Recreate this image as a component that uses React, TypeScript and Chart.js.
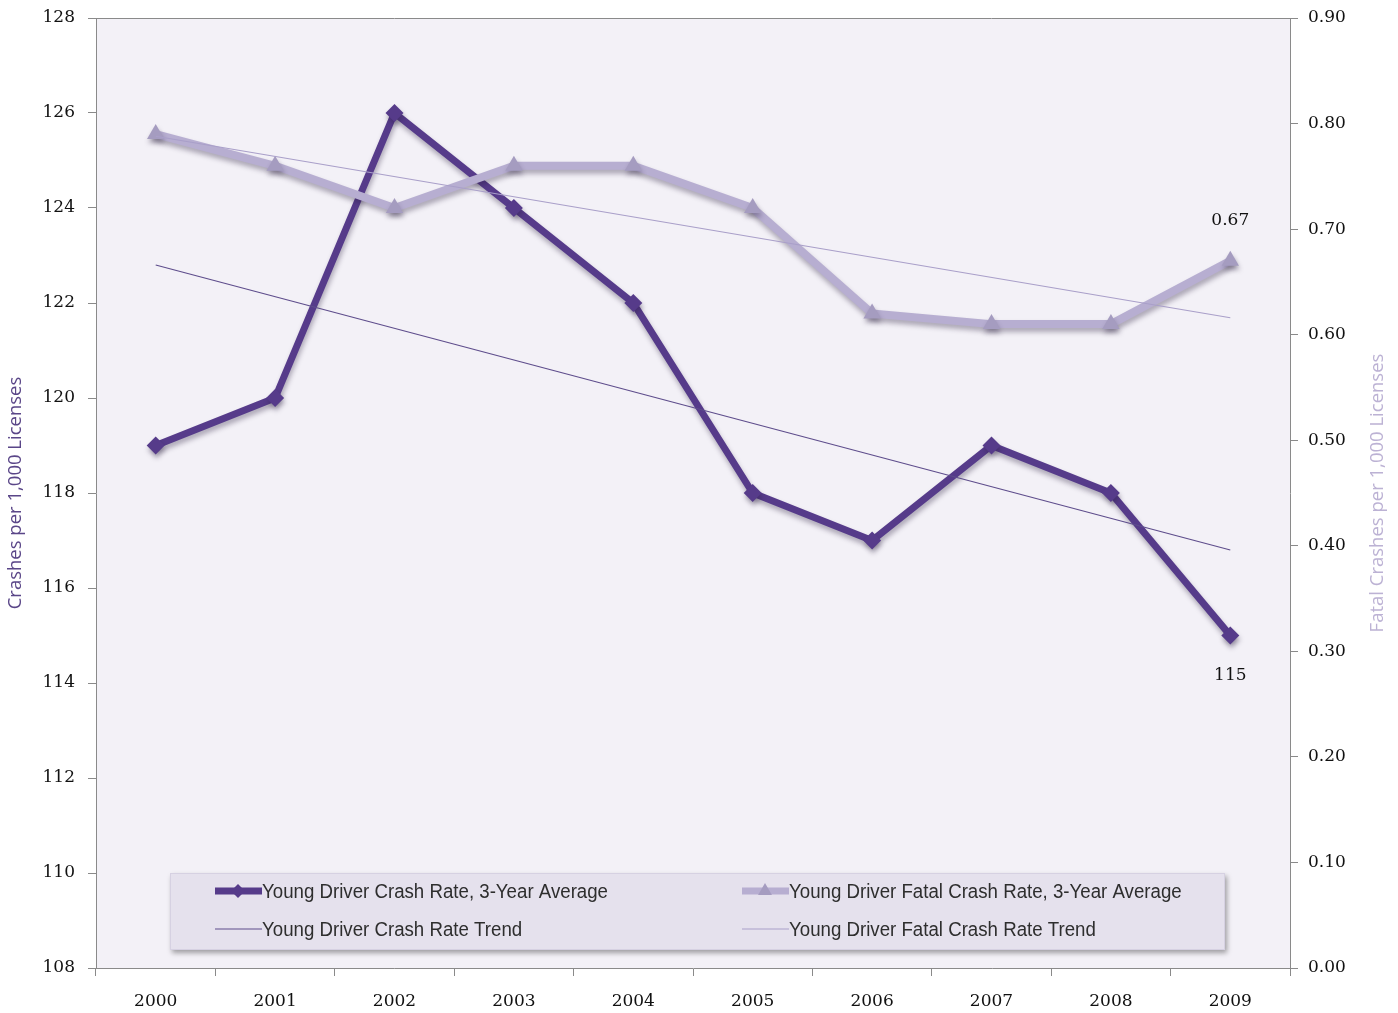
import React, { useEffect, useRef } from 'react';
import { Chart, registerables } from 'chart.js';

Chart.register(...registerables);

// ---- data ----
const years = ['2000', '2001', '2002', '2003', '2004', '2005', '2006', '2007', '2008', '2009'];
const crashRate = [119, 120, 126, 124, 122, 118, 117, 119, 118, 115];
const fatalRate = [0.79, 0.76, 0.72, 0.76, 0.76, 0.72, 0.62, 0.61, 0.61, 0.67];
// trend lines: read end points, straight line between them
const crashTrend = [122.8, null, null, null, null, null, null, null, null, 116.8];
const fatalTrend = [0.788, null, null, null, null, null, null, null, null, 0.616];

const crashLabel = 'Young Driver Crash Rate, 3-Year Average';
const fatalLabel = 'Young Driver Fatal Crash Rate, 3-Year Average';
const crashTrendLabel = 'Young Driver Crash Rate Trend';
const fatalTrendLabel = 'Young Driver Fatal Crash Rate Trend';

const leftTitle = 'Crashes per 1,000 Licenses';
const rightTitle = 'Fatal Crashes per 1,000 Licenses';

const leftMin = 108, leftMax = 128, leftStep = 2;
const rightMin = 0, rightMax = 0.9, rightStep = 0.1;

// ---- styles ----
const CRASH = '#563b8a';
const FATAL = '#b7aed1';
const FATAL_PT = '#a59cc0';
const CRASH_TREND = '#5e4d8c';
const FATAL_TREND = '#a99fc9';
const AXIS = '#8a8a8a';
const TICK_FONT = { family: '"DejaVu Serif", serif', size: 17 };

function drawMarker(ctx: CanvasRenderingContext2D, kind: string, x: number, y: number, r: number, color: string) {
  ctx.save();
  ctx.fillStyle = color;
  ctx.beginPath();
  if (kind === 'diamond') {
    ctx.moveTo(x, y - r); ctx.lineTo(x + r, y); ctx.lineTo(x, y + r); ctx.lineTo(x - r, y);
  } else {
    ctx.moveTo(x, y - r); ctx.lineTo(x + r * 0.866, y + r * 0.5); ctx.lineTo(x - r * 0.866, y + r * 0.5);
  }
  ctx.closePath();
  ctx.fill();
  ctx.restore();
}

const decorPlugin = {
  id: 'decor',
  beforeDraw(chart: any) {
    const { ctx, chartArea: a } = chart;
    ctx.save();
    ctx.fillStyle = '#ffffff';
    ctx.fillRect(0, 0, chart.width, chart.height);
    ctx.fillStyle = '#f3f1f7';
    ctx.fillRect(a.left, a.top, a.right - a.left, a.bottom - a.top);
    ctx.restore();
  },
  beforeDatasetDraw(chart: any, args: any) {
    if (args.index === 0 || args.index === 1) {
      const ctx = chart.ctx;
      ctx.save();
      ctx.shadowColor = 'rgba(40,30,60,0.35)';
      ctx.shadowBlur = 5;
      ctx.shadowOffsetX = 1;
      ctx.shadowOffsetY = 4;
    }
  },
  afterDatasetDraw(chart: any, args: any) {
    if (args.index === 0 || args.index === 1) chart.ctx.restore();
  },
  afterDraw(chart: any) {
    const { ctx, chartArea: a } = chart;
    ctx.save();
    // top border of plot area
    ctx.strokeStyle = AXIS;
    ctx.lineWidth = 1;
    ctx.beginPath();
    ctx.moveTo(a.left, a.top + 0.5);
    ctx.lineTo(a.right, a.top + 0.5);
    ctx.stroke();

    // axis titles
    const cy = (a.top + a.bottom) / 2;
    ctx.font = '18.5px "Open Sans", sans-serif';
    ctx.textAlign = 'center';
    ctx.textBaseline = 'middle';
    ctx.fillStyle = '#5a4688';
    ctx.save();
    ctx.translate(16, cy);
    ctx.rotate(-Math.PI / 2);
    ctx.fillText(leftTitle, 0, 0);
    ctx.restore();
    ctx.fillStyle = '#bcb2d4';
    ctx.save();
    ctx.translate(chart.width - 20, cy);
    ctx.rotate(-Math.PI / 2);
    ctx.fillText(rightTitle, 0, 0);
    ctx.restore();

    // data labels for last points
    const last = years.length - 1;
    const m0 = chart.getDatasetMeta(0).data[last];
    const m1 = chart.getDatasetMeta(1).data[last];
    ctx.font = '17px "DejaVu Serif", serif';
    ctx.fillStyle = '#111111';
    ctx.fillText(fatalRate[last].toFixed(2), m1.x, m1.y - 40);
    ctx.fillText(String(crashRate[last]), m0.x, m0.y + 40);

    // legend box
    const bx = a.left + 74, by = a.bottom - 95, bw = 1055, bh = 77;
    ctx.save();
    ctx.shadowColor = 'rgba(0,0,0,0.35)';
    ctx.shadowBlur = 5;
    ctx.shadowOffsetX = 2;
    ctx.shadowOffsetY = 3;
    ctx.fillStyle = '#e5e1ed';
    ctx.fillRect(bx, by, bw, bh);
    ctx.restore();
    ctx.strokeStyle = '#d6d1e2';
    ctx.strokeRect(bx + 0.5, by + 0.5, bw - 1, bh - 1);

    const items = [
      { label: crashLabel, color: CRASH, lw: 7, marker: 'diamond', mcolor: CRASH, mr: 7, col: 0, row: 0 },
      { label: fatalLabel, color: FATAL, lw: 7, marker: 'triangle', mcolor: FATAL_PT, mr: 8, col: 1, row: 0 },
      { label: crashTrendLabel, color: CRASH_TREND, lw: 1.2, marker: '', mcolor: '', mr: 0, col: 0, row: 1 },
      { label: fatalTrendLabel, color: FATAL_TREND, lw: 1.2, marker: '', mcolor: '', mr: 0, col: 1, row: 1 },
    ];
    ctx.font = '20px "Liberation Sans", sans-serif';
    const sx = 346 / ctx.measureText(crashLabel).width;
    for (const it of items) {
      const x0 = bx + (it.col === 0 ? 45 : 572);
      const y0 = by + (it.row === 0 ? 18 : 56);
      ctx.strokeStyle = it.color;
      ctx.lineWidth = it.lw;
      ctx.beginPath();
      ctx.moveTo(x0, y0);
      ctx.lineTo(x0 + 47, y0);
      ctx.stroke();
      if (it.marker) drawMarker(ctx, it.marker, x0 + 23, y0, it.mr, it.mcolor);
      ctx.save();
      ctx.translate(x0 + 47, y0);
      ctx.scale(sx, 1);
      ctx.fillStyle = '#2e2e2e';
      ctx.textAlign = 'left';
      ctx.textBaseline = 'middle';
      ctx.fillText(it.label, 0, 1);
      ctx.restore();
    }
    ctx.restore();
  },
};

export default function App() {
  const ref = useRef<HTMLCanvasElement | null>(null);
  useEffect(() => {
    document.body.style.margin = '0';
    const canvas = ref.current!;
    const chart = new Chart(canvas, {
      type: 'line',
      data: {
        labels: years,
        datasets: [
          {
            label: crashLabel, data: crashRate, yAxisID: 'y', order: 4,
            borderColor: CRASH, backgroundColor: CRASH, borderWidth: 7,
            pointStyle: 'rectRot', pointRadius: 9, pointBorderWidth: 0,
            pointBackgroundColor: CRASH, tension: 0, borderJoinStyle: 'round', borderCapStyle: 'round',
          },
          {
            label: fatalLabel, data: fatalRate, yAxisID: 'y1', order: 3,
            borderColor: FATAL, backgroundColor: FATAL_PT, borderWidth: 8,
            pointStyle: 'triangle', pointRadius: 10, pointBorderWidth: 0,
            pointBackgroundColor: FATAL_PT, tension: 0, borderJoinStyle: 'round', borderCapStyle: 'round',
          },
          {
            label: crashTrendLabel, data: crashTrend, yAxisID: 'y', order: 2,
            borderColor: CRASH_TREND, borderWidth: 1.2, pointRadius: 0, spanGaps: true,
          },
          {
            label: fatalTrendLabel, data: fatalTrend, yAxisID: 'y1', order: 1,
            borderColor: FATAL_TREND, borderWidth: 1.2, pointRadius: 0, spanGaps: true,
          },
        ],
      },
      options: {
        animation: false,
        responsive: false,
        maintainAspectRatio: false,
        layout: { padding: { top: 18, left: 0, right: 0, bottom: 0 } },
        plugins: { legend: { display: false }, tooltip: { enabled: false } },
        scales: {
          x: {
            type: 'category',
            offset: true,
            grid: { offset: true, drawOnChartArea: false, drawTicks: true, tickLength: 8, color: AXIS },
            border: { display: true, color: AXIS },
            ticks: { font: TICK_FONT, color: '#111111', padding: 15, autoSkip: false, maxRotation: 0 },
            afterFit: (s: any) => { s.height = 45; s.paddingLeft = 0; s.paddingRight = 0; },
          },
          y: {
            position: 'left',
            min: leftMin, max: leftMax,
            grid: { drawOnChartArea: false, drawTicks: true, tickLength: 8, color: AXIS },
            border: { display: true, color: AXIS },
            ticks: { stepSize: leftStep, font: TICK_FONT, color: '#111111', padding: 13, autoSkip: false },
            afterFit: (s: any) => { s.width = 96; s.paddingTop = 0; s.paddingBottom = 0; },
          },
          y1: {
            position: 'right',
            min: rightMin, max: rightMax,
            grid: { drawOnChartArea: false, drawTicks: true, tickLength: 8, color: AXIS },
            border: { display: true, color: AXIS },
            ticks: {
              stepSize: rightStep, font: TICK_FONT, color: '#111111', padding: 10, autoSkip: false,
              callback: (v: any) => Number(v).toFixed(2),
            },
            afterFit: (s: any) => { s.width = 108; s.paddingTop = 0; s.paddingBottom = 0; },
          },
        },
      },
      plugins: [decorPlugin],
    } as any);
    return () => chart.destroy();
  }, []);
  return <canvas ref={ref} width={1398} height={1013} style={{ display: 'block' }} />;
}
